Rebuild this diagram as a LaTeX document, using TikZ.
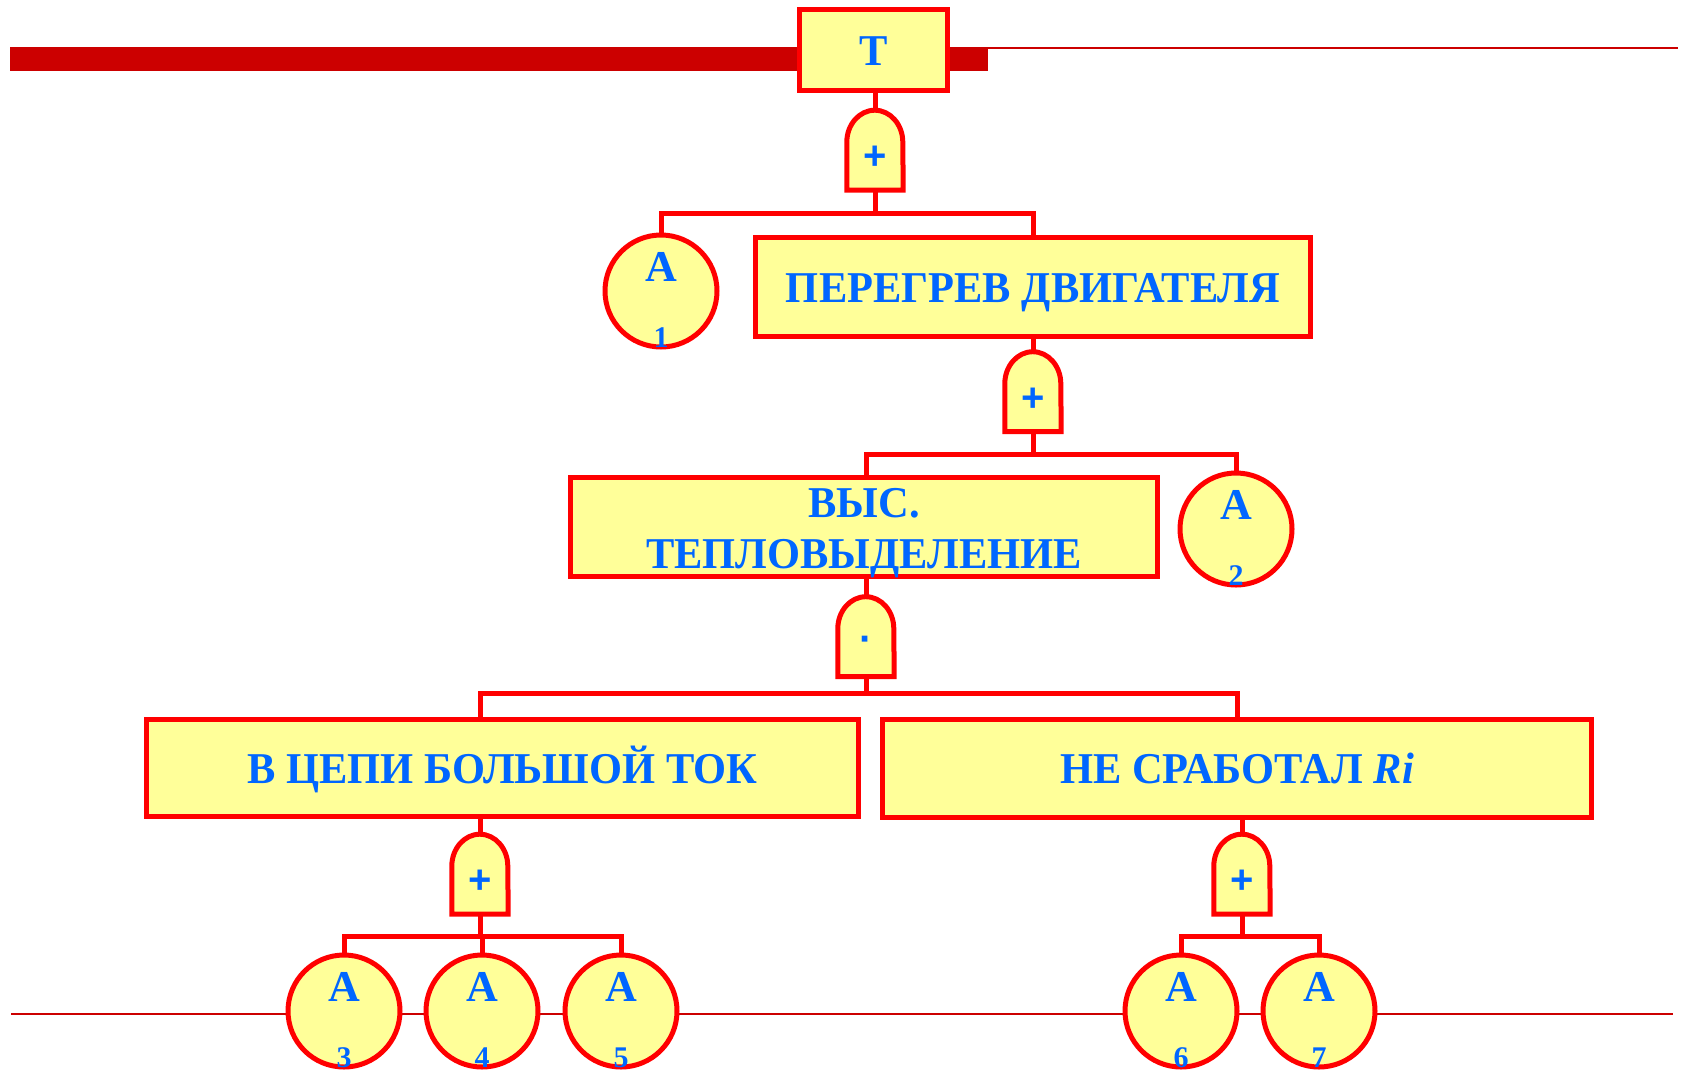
\documentclass[tikz,border=0pt]{standalone}
\usepackage{fontspec}
\newfontfamily\tnr{Liberation Serif}
\newfontfamily\tnrc[FakeStretch=0.965]{Liberation Serif}
\newfontfamily\ars{Liberation Sans}
\definecolor{yel}{RGB}{255,255,153}
\definecolor{tblue}{RGB}{0,102,255}
\definecolor{dred}{RGB}{204,0,0}
\newcommand\mygate[3]{%
  \node[gate] (#1) at (#2) {};
  \draw[gateline] (#1.south west) -- ++(0,-48) arc[start angle=180,end angle=0,x radius=28pt,y radius=32pt] -- (#1.south east) -- cycle;
  \node[gsym] (#1s) at ([yshift=-8pt]#1.center) {#3};
}
\newcommand\acirc[3]{%
  \node[acirc] (#1) at (#2) {};
  \node[alet] (#1a) at ([yshift=24pt]#1.center) {A};
  \node[anum] (#1n) at ([yshift=-47pt]#1.center) {#3};
}
\begin{document}
\begin{tikzpicture}[x=1pt,y=-1pt,
  evbox/.style={draw=red,fill=yel,line width=5pt,inner sep=0pt,text=tblue,
    font=\tnrc\bfseries\fontsize{44}{51}\selectfont},
  evtext/.style={inner sep=0pt,text=tblue,align=center,
    font=\tnrc\bfseries\fontsize{44}{51}\selectfont},
  oneline/.style={text height=31pt,text depth=0pt},
  acirc/.style={circle,draw=red,fill=yel,line width=5pt,minimum size=112pt,inner sep=0pt},
  alet/.style={inner sep=0pt,text=tblue,font=\tnr\bfseries\fontsize{44}{48}\selectfont},
  anum/.style={inner sep=0pt,text=tblue,font=\tnr\bfseries\fontsize{30}{32}\selectfont},
  gate/.style={minimum width=56pt,minimum height=80pt,inner sep=0pt,draw=none},
  gateline/.style={draw=red,fill=yel,line width=5pt},
  gsym/.style={inner sep=0pt,text=tblue,font=\ars\bfseries\fontsize{40}{44}\selectfont},
  conn/.style={draw=red,line width=5pt},
  rule/.style={draw=dred,line width=1.5pt}]
\useasboundingbox (0,0) rectangle (1687,1069);
\clip (0,0) rectangle (1687,1069);
% decorative rules
\fill[dred] (10,47) rectangle (988,71);
\draw[rule] (988,48) -- (1678,48);
\draw[rule] (11,1014) -- (1673,1014);
% events
\node[evbox,oneline,minimum width=148pt,minimum height=81pt] (T) at (873.5,50) {Т};
\node[evbox,oneline,minimum width=555pt,minimum height=99pt] (B2) at (1033,287) {ПЕРЕГРЕВ ДВИГАТЕЛЯ};
\node[evbox,minimum width=587pt,minimum height=98.5pt] (B3) at (864,527) {};
\node[evtext] (B3t) at ([yshift=-6.5pt]B3.center) {ВЫС.\\ТЕПЛОВЫДЕЛЕНИЕ};
\node[evbox,oneline,minimum width=712pt,minimum height=97pt] (B4) at (502.5,767.5) {В ЦЕПИ БОЛЬШОЙ ТОК};
\node[evbox,oneline,minimum width=709.5pt,minimum height=98pt] (B5) at (1237,768) {НЕ СРАБОТАЛ \textit{Ri}};
% gates
\mygate{g1}{875,150}{+}
\mygate{g2}{1033,391.5}{+}
\mygate{g3}{866,636.5}{·}
\mygate{g4}{480,874}{+}
\mygate{g5}{1242,874}{+}
% basic events
\acirc{A1}{661,291}{1}
\acirc{A2}{1236,529}{2}
\acirc{A3}{344,1011}{3}
\acirc{A4}{482,1011}{4}
\acirc{A5}{621,1011}{5}
\acirc{A6}{1181,1011}{6}
\acirc{A7}{1319,1011}{7}
% junctions
\coordinate (j1) at (875,213);
\coordinate (j2) at (1033,454);
\coordinate (j3) at (866,693);
\coordinate (j4) at (480,936);
\coordinate (j5) at (1242,936);
% connectors
\draw[conn] (T.south -| g1) -- (g1.north);
\draw[conn] (g1.south) -- (j1);
\draw[conn] (A1.north) |- (j1) -| (B2.north);
\draw[conn] (B2.south -| g2) -- (g2.north);
\draw[conn] (g2.south) -- (j2);
\draw[conn] (B3.north -| g3) |- (j2) -| (A2.north);
\draw[conn] (B3.south -| g3) -- (g3.north);
\draw[conn] (g3.south) -- (j3);
\draw[conn] (B4.north -| g4) |- (j3) -| (B5.north);
\draw[conn] (B4.south -| g4) -- (g4.north);
\draw[conn] (B5.south -| g5) -- (g5.north);
\draw[conn] (g4.south) -- (j4);
\draw[conn] (A3.north) |- (j4) -| (A5.north);
\draw[conn] (A4.north) -- (A4.north |- j4);
\draw[conn] (g5.south) -- (j5);
\draw[conn] (A6.north) |- (j5) -| (A7.north);
\end{tikzpicture}
\end{document}
